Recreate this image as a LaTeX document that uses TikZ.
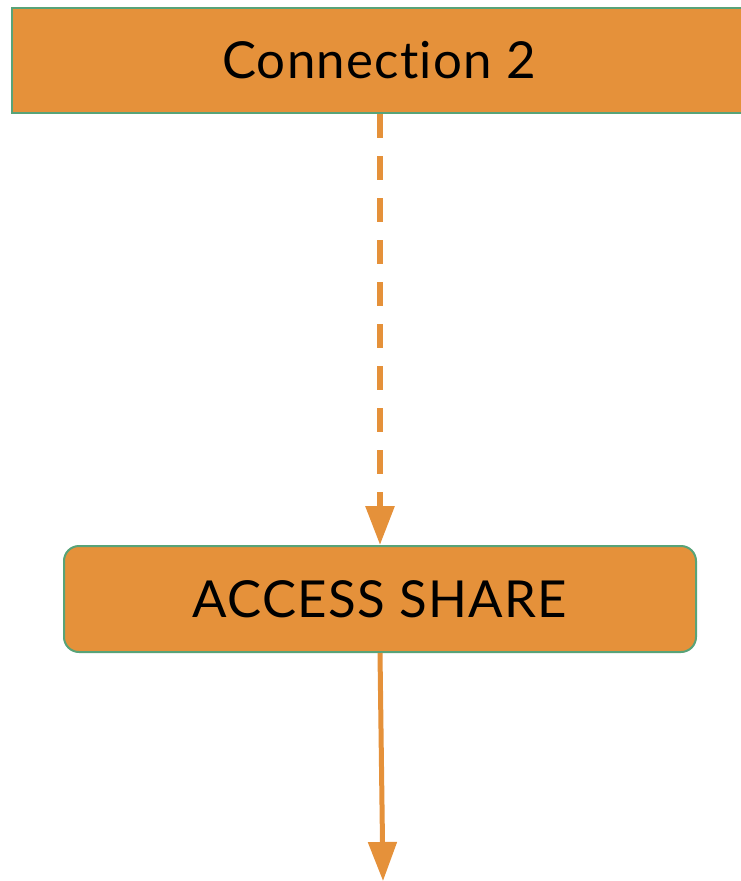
\documentclass[tikz,border=0pt]{standalone}
\usepackage{fontspec}
\setmainfont[Ligatures=NoCommon,LetterSpace=2.5]{Lato}
\usetikzlibrary{arrows.meta}
\definecolor{boxorange}{RGB}{229,145,58}
\definecolor{boxgreen}{RGB}{88,163,120}
\tikzset{
  box/.style={draw=boxgreen, line width=2pt, fill=boxorange, inner sep=0pt, font=\fontsize{51}{60}\selectfont},
  link/.style={draw=boxorange, line width=6pt, -{Triangle[length=39pt,width=28pt]}}
}
\begin{document}
\begin{tikzpicture}[x=1pt,y=-1pt]
\useasboundingbox (0,0) rectangle (740,881);
\node[box, minimum width=734pt, minimum height=105pt] (conn) at (379,60.5) {Connection 2};
\node[box, rounded corners=15pt, minimum width=632pt, minimum height=106pt] (share) at (380,599) {ACCESS SHARE};
\coordinate (out) at (383,881);
\draw[link, dash pattern=on 24pt off 18pt] (conn.south -| share.north) -- (share.north);
\draw[link, line width=5pt] (share.south) -- (out);
\end{tikzpicture}
\end{document}
